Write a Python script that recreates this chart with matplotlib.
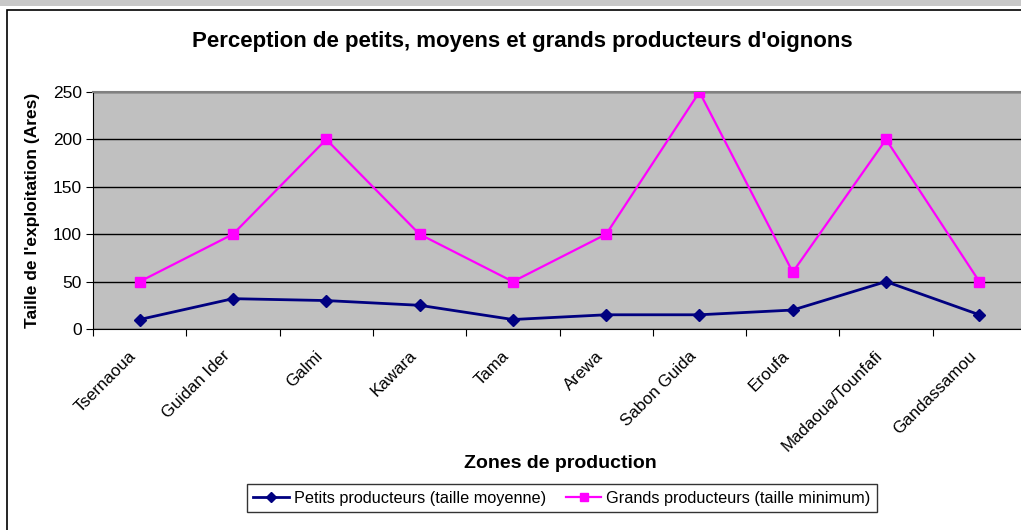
import numpy as np
import matplotlib.pyplot as plt
import matplotlib.transforms as mtransforms
from matplotlib.patches import Rectangle

# Zones and sizes (ares)
zones = ['Tsernaoua', 'Guidan Ider', 'Galmi', 'Kawara', 'Tama', 'Arewa',
         'Sabon Guida', 'Eroufa', 'Madaoua/Tounfafi', 'Gandassamou']
petits = [10, 32, 30, 25, 10, 15, 15, 20, 50, 15]
grands = [50, 100, 200, 100, 50, 100, 250, 60, 200, 50]
yticks = [0, 50, 100, 150, 200, 250]

plt.rcParams['font.family'] = ['Liberation Sans', 'DejaVu Sans']

W, H = 1021, 530
fig = plt.figure(figsize=(W / 100, H / 100), dpi=100, facecolor='white')

# screenshot strip at top + chart frame (cut off right and bottom)
fig.patches.append(Rectangle((0, 1 - 6 / H), 1, 6 / H, transform=fig.transFigure,
                             facecolor='#c8c8c8', edgecolor='none', zorder=-1))
fig.patches.append(Rectangle((7 / W, -0.05), 1.1, 1 - 10 / H + 0.05, transform=fig.transFigure,
                             facecolor='none', edgecolor='black', linewidth=1.2, zorder=-1))

left, right, top, bottom = 93, 1026, 92, 329
ax = fig.add_axes([left / W, 1 - bottom / H, (right - left) / W, (bottom - top) / H])
ax.set_zorder(2)
ax.set_facecolor('#c0c0c0')

x = np.arange(len(zones))
ax.plot(x, petits, color='#000080', marker='D', markersize=6, linewidth=2,
        label='Petits producteurs (taille moyenne)', zorder=3)
ax.plot(x, grands, color='#ff00ff', marker='s', markersize=7, linewidth=1.6,
        label='Grands producteurs (taille minimum)', zorder=3)

ax.set_xlim(-0.5, len(zones) - 0.5)
ax.set_ylim(0, 250)
ax.set_yticks(yticks)
ax.yaxis.grid(True, color='black', linewidth=1)
ax.set_axisbelow(True)

# category boundaries get tick marks, labels sit under the centres (drawn by hand,
# Excel puts them a bit left of the centre)
ax.set_xticks(np.arange(-0.5, len(zones), 1.0))
ax.set_xticklabels([])
ax.tick_params(axis='x', which='major', length=5, color='black')
ax.tick_params(axis='y', length=5, labelsize=12.5, pad=3)
lbl_tr = ax.get_xaxis_transform() + mtransforms.ScaledTranslation(
    -0.11, -0.19, fig.dpi_scale_trans)
for xi, name in zip(x, zones):
    ax.text(xi, 0, name, transform=lbl_tr, rotation=45, rotation_mode='anchor',
            ha='right', va='top', fontsize=12.2, clip_on=False)

for s in ['left', 'bottom']:
    ax.spines[s].set_color('black')
ax.spines['top'].set_color('#808080')
ax.spines['top'].set_linewidth(1.5)
ax.spines['right'].set_visible(False)

ax.set_ylabel("Taille de l'exploitation (Ares)", fontsize=12.5, fontweight='bold', labelpad=9)
fig.text(560 / W, 1 - 463 / H, 'Zones de production', fontsize=14,
         fontweight='bold', ha='center', va='center')
fig.text(522 / W, 1 - 42 / H, "Perception de petits, moyens et grands producteurs d'oignons",
         fontsize=16, fontweight='bold', ha='center', va='center')

leg = fig.legend(loc='center', bbox_to_anchor=(562 / W, 1 - 498 / H), ncol=2,
                 fontsize=11.7, frameon=True, fancybox=False, edgecolor='black',
                 handlelength=2.2, columnspacing=1.2, handletextpad=0.3,
                 borderpad=0.4, markerscale=0.8)
leg.get_frame().set_linewidth(1)

fig.savefig('out.png', dpi=100)
